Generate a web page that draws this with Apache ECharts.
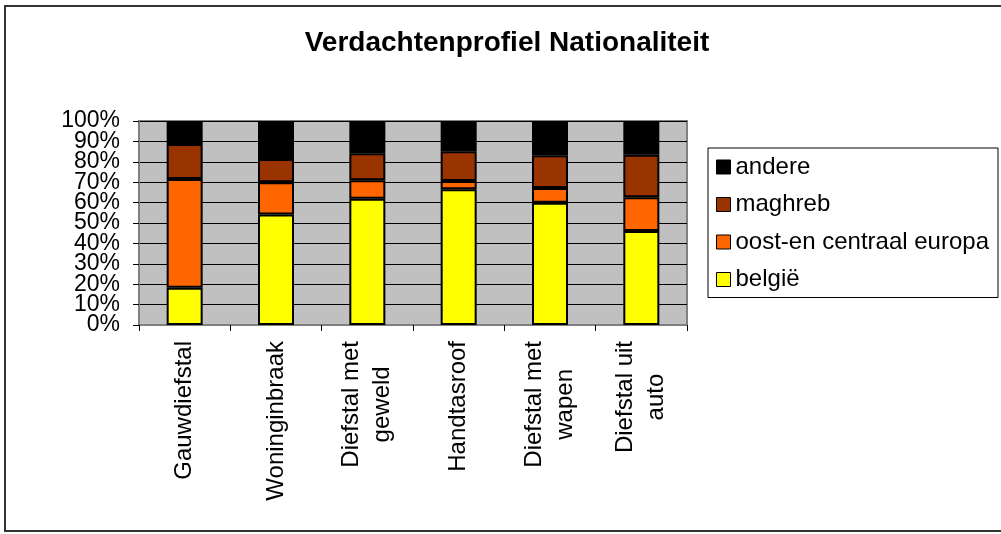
<!DOCTYPE html>
<html>
<head>
<meta charset="utf-8">
<script src="https://cdn.jsdelivr.net/npm/echarts@6/dist/echarts.min.js"></script>
<style>
html, body { margin: 0; padding: 0; background: #fff; }
#main { width: 1001px; height: 534px; }
</style>
</head>
<body>
<div id="main"></div>
<script>
// categorieen en aandelen (%) per nationaliteit
var categories = ['Gauwdiefstal', 'Woninginbraak', 'Diefstal met\ngeweld', 'Handtasroof', 'Diefstal met\nwapen', 'Diefstal uit\nauto'];
var belgie = [18.2, 54.2, 61.9, 66.5, 59.9, 46.1];
var oostEuropa = [53.4, 15.8, 9.0, 4.1, 7.2, 16.5];
var maghreb = [17.1, 11.4, 13.3, 14.6, 16.1, 20.9];
var andere = [11.3, 18.6, 15.8, 14.8, 16.8, 16.5];
var yTicks = [0, 10, 20, 30, 40, 50, 60, 70, 80, 90, 100];

var font = 'Liberation Sans, Arial, sans-serif';

function bar(name, data, color) {
    return {
        name: name,
        type: 'bar',
        stack: 'totaal',
        barWidth: 36,
        data: data,
        itemStyle: { color: color, borderColor: '#000', borderWidth: 2 }
    };
}

// labels staan dicht op elkaar; verdeel ze over twee assen zodat echarts er geen verbergt
function yAxisDef(even) {
    return {
        type: 'value',
        position: 'left',
        min: yTicks[0],
        max: yTicks[yTicks.length - 1],
        interval: 10,
        axisLine: { show: even, lineStyle: { color: '#808080', width: 2 } },
        axisTick: { show: even, length: 6, lineStyle: { color: '#000' } },
        splitLine: { show: even, lineStyle: { color: '#000', width: 1 } },
        axisLabel: {
            margin: 19,
            showMinLabel: true,
            showMaxLabel: true,
            formatter: function (v) {
                return ((v / 10) % 2 === 0) === even ? v + '%' : '';
            },
            fontFamily: font,
            fontSize: 23,
            color: '#000'
        }
    };
}

var mychart = echarts.init(document.getElementById('main'));
var option = {
    animation: false,
    backgroundColor: '#fff',
    textStyle: { fontFamily: font, color: '#000' },
    title: {
        text: 'Verdachtenprofiel Nationaliteit',
        left: 507,
        top: 29,
        padding: 0,
        textAlign: 'center',
        textStyle: { fontFamily: font, fontSize: 28, fontWeight: 'bold', color: '#000' }
    },
    graphic: [{
        type: 'rect',
        shape: { x: 5, y: 6, width: 1000, height: 525 },
        style: { fill: 'none', stroke: '#333', lineWidth: 2 },
        silent: true
    }],
    legend: {
        orient: 'vertical',
        left: 708,
        top: 148,
        padding: [7, 9, 6, 8],
        borderColor: '#000',
        borderWidth: 1,
        itemWidth: 14,
        itemHeight: 14,
        itemGap: 13.5,
        icon: 'rect',
        itemStyle: { borderWidth: 1, borderColor: '#000' },
        data: ['andere', 'maghreb', 'oost-en centraal europa', 'belgië'],
        textStyle: { fontFamily: font, fontSize: 24, lineHeight: 24, color: '#000' }
    },
    grid: {
        left: 139,
        right: 314,
        top: 121,
        bottom: 209,
        show: true,
        backgroundColor: '#C0C0C0',
        borderColor: '#808080',
        borderWidth: 2
    },
    xAxis: {
        type: 'category',
        data: categories,
        axisLine: { lineStyle: { color: '#808080', width: 2 } },
        axisTick: { show: true, length: 6, lineStyle: { color: '#000' } },
        axisLabel: {
            rotate: 90,
            margin: 16,
            interval: 0,
            formatter: function (v) {
                return v.split('\n').map(function (s) { return '{c|' + s + '}'; }).join('\n');
            },
            rich: {
                c: { align: 'center', fontFamily: font, fontSize: 24, lineHeight: 31, color: '#000' }
            }
        }
    },
    yAxis: [yAxisDef(true), yAxisDef(false)],
    series: [
        bar('belgië', belgie, '#FFFF00'),
        bar('oost-en centraal europa', oostEuropa, '#FF6600'),
        bar('maghreb', maghreb, '#993300'),
        bar('andere', andere, '#000000')
    ]
};
mychart.setOption(option);
</script>
</body>
</html>
